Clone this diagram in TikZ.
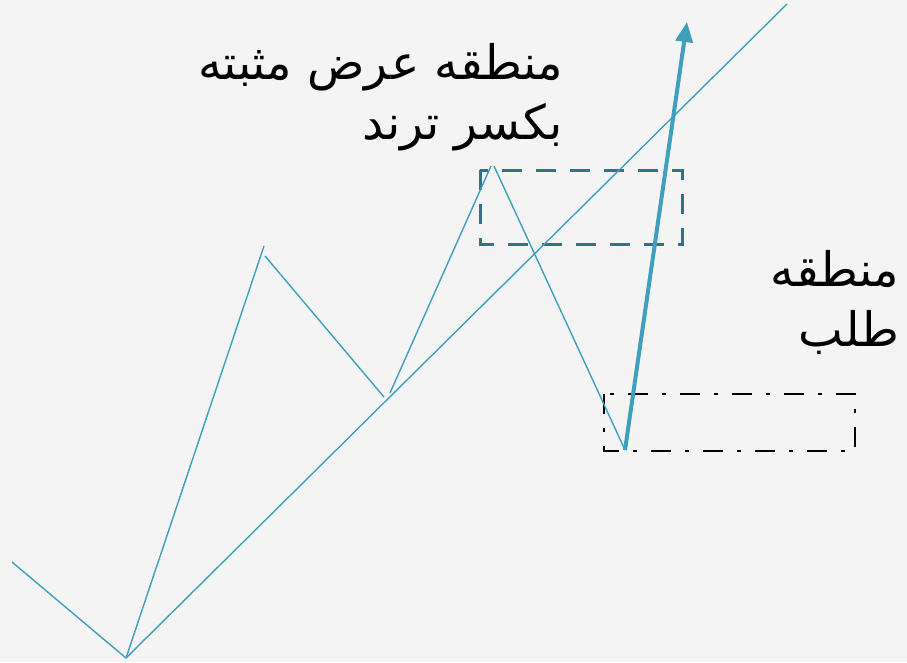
\documentclass[tikz,border=0pt]{standalone}
\usepackage{fontspec}
\usepackage{tikz}
\usetikzlibrary{arrows.meta}
\setmainfont{DejaVu Sans}
\newfontfamily\arabicfont[Script=Arabic]{DejaVu Sans}
\TeXXeTstate=1
\definecolor{wave}{HTML}{3FA0BD}
\definecolor{zone}{HTML}{2E7487}
\definecolor{paper}{HTML}{F4F4F4}

\begin{document}
\begin{tikzpicture}[x=1pt,y=-1pt,
  leg/.style={wave,line width=1.4pt},
  zonetext/.style={align=right,inner sep=0pt,font=\arabicfont\fontsize{47.5}{60}\selectfont}]
\fill[paper] (0,0) rectangle (907,662);
\useasboundingbox (0,0) rectangle (907,662);
% swing points
\coordinate (s0) at (12,562);
\coordinate (low) at (126,658);
\coordinate (h1) at (264,246);
\coordinate (h1b) at (265,256);
\coordinate (l1) at (384,397);
\coordinate (l1b) at (390,393);
\coordinate (h2) at (491,166);
\coordinate (h2b) at (494,166);
\coordinate (l2) at (625,450);
\coordinate (top) at (787,4);
\coordinate (tip) at (687,22);
% zones
\draw[zone,line width=3pt,dash pattern=on 20pt off 14pt] (480,170) rectangle (682,244);
\draw[black,line width=2.4pt,dash pattern=on 20pt off 14pt on 4pt off 14pt] (604,394) rectangle (855,451);
% wave
\draw[leg] (s0)--(low);
\draw[leg] (low)--(h1);
\draw[leg] (h1b)--(l1);
\draw[leg] (l1b)--(h2);
\draw[leg] (h2b)--(l2);
\draw[leg] (low)--(top);
\draw[-{Triangle[length=20pt,width=17pt]},wave,line width=4pt] (l2)--(tip);
% labels
\node[zonetext,anchor=base east] (supply) at (563,139) {\beginR منطقه عرض مثبته\endR\\\beginR بکسر ترند\endR};
\node[zonetext,anchor=base east] (demand) at (899,346) {\beginR منطقه\endR\\\beginR طلب\endR};
\end{tikzpicture}
\end{document}
